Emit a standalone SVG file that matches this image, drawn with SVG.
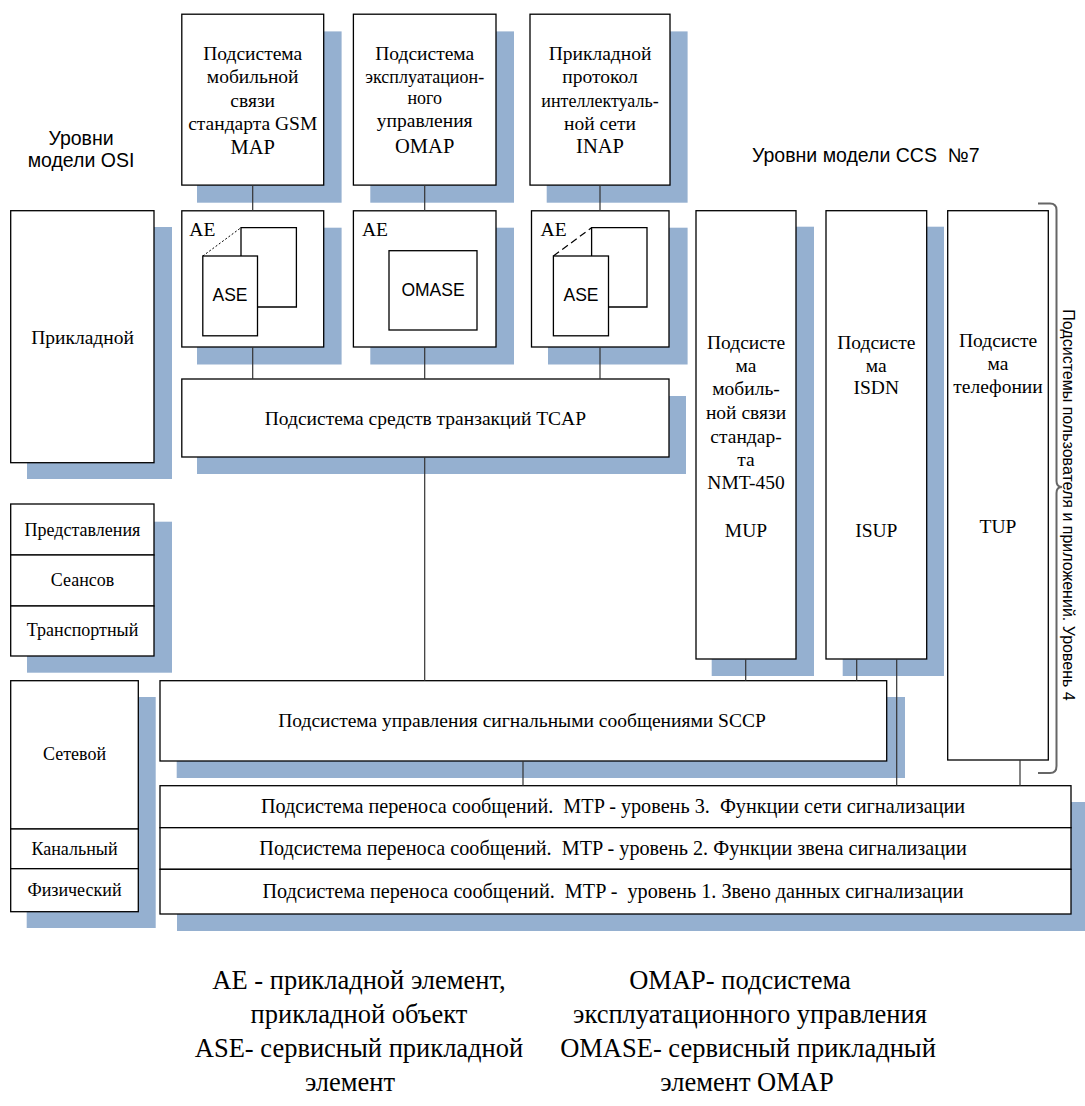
<svg xmlns="http://www.w3.org/2000/svg" width="1085" height="1106" viewBox="0 0 1085 1106">
<style>
.bg{fill:#fff}
.s{fill:#95b0d0}
.b{fill:#fff;stroke:#000;stroke-width:1.3}
.c{stroke:#333;stroke-width:1.2;fill:none}
.t{font-family:"Liberation Serif","Times New Roman",serif;font-size:19.5px;text-anchor:middle;fill:#000}
.tb{font-family:"Liberation Serif","Times New Roman",serif;font-size:20.5px;text-anchor:middle;fill:#000}
.ts{font-family:"Liberation Serif","Times New Roman",serif;font-size:18px;text-anchor:middle;fill:#000}
.ae{font-family:"Liberation Serif","Times New Roman",serif;font-size:19.5px;fill:#000}
.a{font-family:"Liberation Sans",Arial,sans-serif;font-size:17.5px;text-anchor:middle;fill:#000}
.h{font-family:"Liberation Sans",Arial,sans-serif;font-size:19.5px;fill:#000;white-space:pre}
.v{font-family:"Liberation Sans",Arial,sans-serif;font-size:16px;text-anchor:middle;fill:#000}
.f{font-family:"Liberation Serif","Times New Roman",serif;font-size:26.5px;text-anchor:middle;fill:#000}
.m{font-family:"Liberation Serif","Times New Roman",serif;font-size:20.2px;text-anchor:middle;fill:#000;white-space:pre}
</style>
<rect class="bg" x="0" y="0" width="1085" height="1106"/>

<g id="label-osi">
<text class="h" x="81" y="145" text-anchor="middle">Уровни</text>
<text class="h" x="81" y="167" text-anchor="middle">модели OSI</text>
</g>
<g id="label-ccs">
<text class="h" x="752" y="162" font-size="20.5">Уровни модели CCS  №7</text>
</g>

<g id="osi-app">
<rect class="s" x="27" y="227" width="145" height="252"/>
<rect class="b" x="10.7" y="210.7" width="143.3" height="252"/>
<text class="t" x="82.5" y="344">Прикладной</text>
</g>
<g id="osi-pst">
<rect class="s" x="27" y="521.7" width="145" height="151"/>
<rect class="b" x="10.7" y="504" width="143.3" height="51"/>
<rect class="b" x="10.7" y="555" width="143.3" height="51"/>
<rect class="b" x="10.7" y="606" width="143.3" height="50"/>
<text class="ts" x="82.5" y="536" font-size="17.5">Представления</text>
<text class="ts" x="82.5" y="586" font-size="17.5">Сеансов</text>
<text class="ts" x="82.5" y="636" font-size="17.5">Транспортный</text>
</g>
<g id="osi-low">
<rect class="s" x="26.7" y="697" width="129" height="231"/>
<rect class="b" x="10.7" y="680.7" width="127.6" height="148.3"/>
<rect class="b" x="10.7" y="829" width="127.6" height="39.7"/>
<rect class="b" x="10.7" y="868.7" width="127.6" height="43"/>
<text class="ts" x="74.5" y="760" font-size="18.5">Сетевой</text>
<text class="ts" x="74.5" y="855">Канальный</text>
<text class="ts" x="74.5" y="896">Физический</text>
</g>

<g id="map">
<rect class="s" x="197" y="31.4" width="144.6" height="171.3"/>
<rect class="b" x="181.8" y="14.2" width="141.9" height="170.9"/>
<text class="t" x="252.7" y="59.5">Подсистема</text>
<text class="t" x="252.7" y="83">мобильной</text>
<text class="t" x="252.7" y="106.5">связи</text>
<text class="t" x="252.7" y="130">стандарта GSM</text>
<text class="tb" x="252.7" y="153.5">MAP</text>
</g>
<g id="omap">
<rect class="s" x="370.3" y="31.4" width="143.7" height="171.3"/>
<rect class="b" x="353.4" y="14.2" width="142.6" height="170.9"/>
<text class="t" x="424.7" y="59.5">Подсистема</text>
<text class="ts" x="424.7" y="82.5">эксплуатацион-</text>
<text class="ts" x="424.7" y="104">ного</text>
<text class="t" x="424.7" y="127">управления</text>
<text class="tb" x="424.7" y="153">OMAP</text>
</g>
<g id="inap">
<rect class="s" x="546.7" y="31.4" width="140.9" height="171.3"/>
<rect class="b" x="530" y="14.2" width="140" height="170.9"/>
<text class="t" x="600" y="59.5">Прикладной</text>
<text class="t" x="600" y="83">протокол</text>
<text class="ts" x="600" y="106.5">интеллектуаль-</text>
<text class="t" x="600" y="130">ной сети</text>
<text class="tb" x="600" y="153">INAP</text>
</g>

<g id="ae-map">
<rect class="s" x="197" y="227.7" width="144.6" height="136.8"/>
<rect class="b" x="181.8" y="210.8" width="141.9" height="136.2"/>
<text class="ae" x="189.3" y="236">AE</text>
<path class="b" d="M241,256 V227.7 H296.4 V307 H257.5"/>
<line x1="202.8" y1="256" x2="241" y2="227.7" stroke="#000" stroke-width="1" stroke-dasharray="2,2"/>
<rect class="b" x="202.8" y="256" width="54.7" height="79.8"/>
<text class="a" x="230" y="300.7">ASE</text>
</g>
<g id="ae-omap">
<rect class="s" x="370.3" y="227.7" width="143.7" height="136.8"/>
<rect class="b" x="353.4" y="210.8" width="142.6" height="136.2"/>
<text class="ae" x="362" y="236">AE</text>
<rect class="b" x="389" y="250.7" width="88" height="79.3"/>
<text class="a" x="433" y="296.3">OMASE</text>
</g>
<g id="ae-inap">
<rect class="s" x="548" y="227.7" width="139.6" height="136.8"/>
<rect class="b" x="531.5" y="210.8" width="137.5" height="136.2"/>
<text class="ae" x="540.6" y="236">AE</text>
<path class="b" d="M591.6,256 V227.7 H647 V307 H608.5"/>
<line x1="553.4" y1="256" x2="591.6" y2="227.7" stroke="#000" stroke-width="1.2" stroke-dasharray="7,4"/>
<rect class="b" x="553.4" y="256" width="55.1" height="79.8"/>
<text class="a" x="581" y="300.7">ASE</text>
</g>

<g id="tcap">
<rect class="s" x="197" y="396" width="489" height="78"/>
<rect class="b" x="181.8" y="379" width="487.2" height="78"/>
<text class="t" x="425.4" y="425" font-size="20">Подсистема средств транзакций TCAP</text>
</g>

<g id="mup">
<rect class="s" x="711.7" y="226.7" width="102.3" height="449.3"/>
<rect class="b" x="696" y="210.7" width="100" height="448.3"/>
<text class="t" x="746" y="349">Подсисте</text>
<text class="t" x="746" y="372">ма</text>
<text class="t" x="746" y="395">мобиль-</text>
<text class="t" x="746" y="419">ной связи</text>
<text class="t" x="746" y="443">стандар-</text>
<text class="t" x="746" y="466">та</text>
<text class="t" x="746" y="489">NMT-450</text>
<text class="t" x="746" y="537">MUP</text>
</g>
<g id="isup">
<rect class="s" x="842.7" y="226.7" width="101.3" height="449.3"/>
<rect class="b" x="826" y="210.7" width="100.7" height="448.3"/>
<text class="t" x="876.3" y="349">Подсисте</text>
<text class="t" x="876.3" y="372">ма</text>
<text class="t" x="876.3" y="394">ISDN</text>
<text class="t" x="876.3" y="537">ISUP</text>
</g>
<g id="tup">
<rect class="b" x="947.7" y="210.7" width="100.6" height="549.3"/>
<text class="t" x="998" y="347">Подсисте</text>
<text class="t" x="998" y="370">ма</text>
<text class="t" x="998" y="393">телефонии</text>
<text class="t" x="998" y="533">TUP</text>
</g>

<g id="sccp">
<rect class="s" x="176.7" y="697" width="728.3" height="81"/>
<rect class="b" x="160" y="680.7" width="726.7" height="80.3"/>
<text class="t" x="522" y="727" font-size="20">Подсистема управления сигнальными сообщениями SCCP</text>
</g>

<g id="mtp">
<rect class="s" x="177" y="802" width="910" height="129"/>
<rect class="b" x="160" y="785.7" width="911" height="42"/>
<rect class="b" x="160" y="827.7" width="911" height="41.6"/>
<rect class="b" x="160" y="869.3" width="911" height="44.7"/>
<text class="m" x="613" y="813">Подсистема переноса сообщений.  MTP - уровень 3.  Функции сети сигнализации</text>
<text class="m" x="613" y="855">Подсистема переноса сообщений.  MTP - уровень 2. Функции звена сигнализации</text>
<text class="m" x="613" y="898">Подсистема переноса сообщений.  MTP -  уровень 1. Звено данных сигнализации</text>
</g>

<g id="connectors">
<line class="c" x1="252.7" y1="185" x2="252.7" y2="210.8"/>
<line class="c" x1="424.7" y1="185" x2="424.7" y2="210.8"/>
<line class="c" x1="600" y1="185" x2="600" y2="210.8"/>
<line class="c" x1="252.7" y1="347" x2="252.7" y2="379"/>
<line class="c" x1="424.7" y1="347" x2="424.7" y2="379"/>
<line class="c" x1="600" y1="347" x2="600" y2="379"/>
<line class="c" x1="424.7" y1="457" x2="424.7" y2="680.7"/>
<line class="c" x1="745.7" y1="659" x2="745.7" y2="680.7"/>
<line class="c" x1="856.7" y1="659" x2="856.7" y2="680.7"/>
<line class="c" x1="896.7" y1="659" x2="896.7" y2="785.7"/>
<line class="c" x1="1020" y1="760" x2="1020" y2="785.7"/>
<line class="c" x1="523" y1="761" x2="523" y2="785.7"/>
</g>

<g id="bracket">
<path d="M1038,203.5 H1050 Q1056.5,203.5 1056.5,210 V481 Q1056.5,487 1062,487 Q1056.5,487 1056.5,493 V766 Q1056.5,773 1050,773 H1038" fill="none" stroke="#666" stroke-width="2"/>
<text class="v" transform="translate(1063,505) rotate(90)">Подсистемы пользователя и приложений. Уровень 4</text>
</g>

<g id="legend">
<text class="f" x="359" y="989">AE - прикладной элемент,</text>
<text class="f" x="359" y="1023">прикладной объект</text>
<text class="f" x="359" y="1057">ASE- сервисный прикладной</text>
<text class="f" x="350" y="1091">элемент</text>
<text class="f" x="740" y="989">OMAP- подсистема</text>
<text class="f" x="750" y="1023">эксплуатационного управления</text>
<text class="f" x="748" y="1057">OMASE- сервисный прикладный</text>
<text class="f" x="747" y="1091">элемент OMAP</text>
</g>
</svg>
